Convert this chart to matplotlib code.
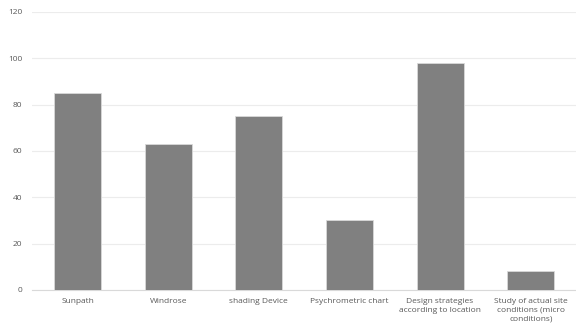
import matplotlib
matplotlib.use('Agg')
import matplotlib.pyplot as plt

categories = ['Sunpath', 'Windrose', 'shading Device', 'Psychrometric chart',
              'Design strategies\naccording to location',
              'Study of actual site\nconditions (micro\nconditions)']
values = [85, 63, 75, 30, 98, 8]
yticks = [0, 20, 40, 60, 80, 100, 120]

fig = plt.figure(figsize=(5.76, 3.31), dpi=100)
ax = fig.add_axes([0.056, 0.124, 0.944, 0.84])

ax.bar(range(len(categories)), values, width=0.52, color='#808080',
       edgecolor='#d9d9d9', linewidth=0.6, zorder=3)

ax.set_xlim(-0.5, len(categories) - 0.5)
ax.set_ylim(0, 120)
ax.set_yticks(yticks)
ax.set_xticks(range(len(categories)))
ax.set_xticklabels(categories, fontsize=6, color='#595959', family='Open Sans',
                   linespacing=1.3)
ax.set_yticklabels([str(t) for t in yticks], fontsize=6, color='#595959', family='Open Sans')
ax.tick_params(axis='both', length=0)
ax.tick_params(axis='y', pad=7)
ax.tick_params(axis='x', pad=6)

ax.grid(axis='y', color='#ececec', linewidth=0.8, zorder=0)
for s in ['top', 'right', 'left']:
    ax.spines[s].set_visible(False)
ax.spines['bottom'].set_color('#d9d9d9')
ax.spines['bottom'].set_linewidth(0.8)

fig.savefig('out.png', dpi=100, facecolor='white')
